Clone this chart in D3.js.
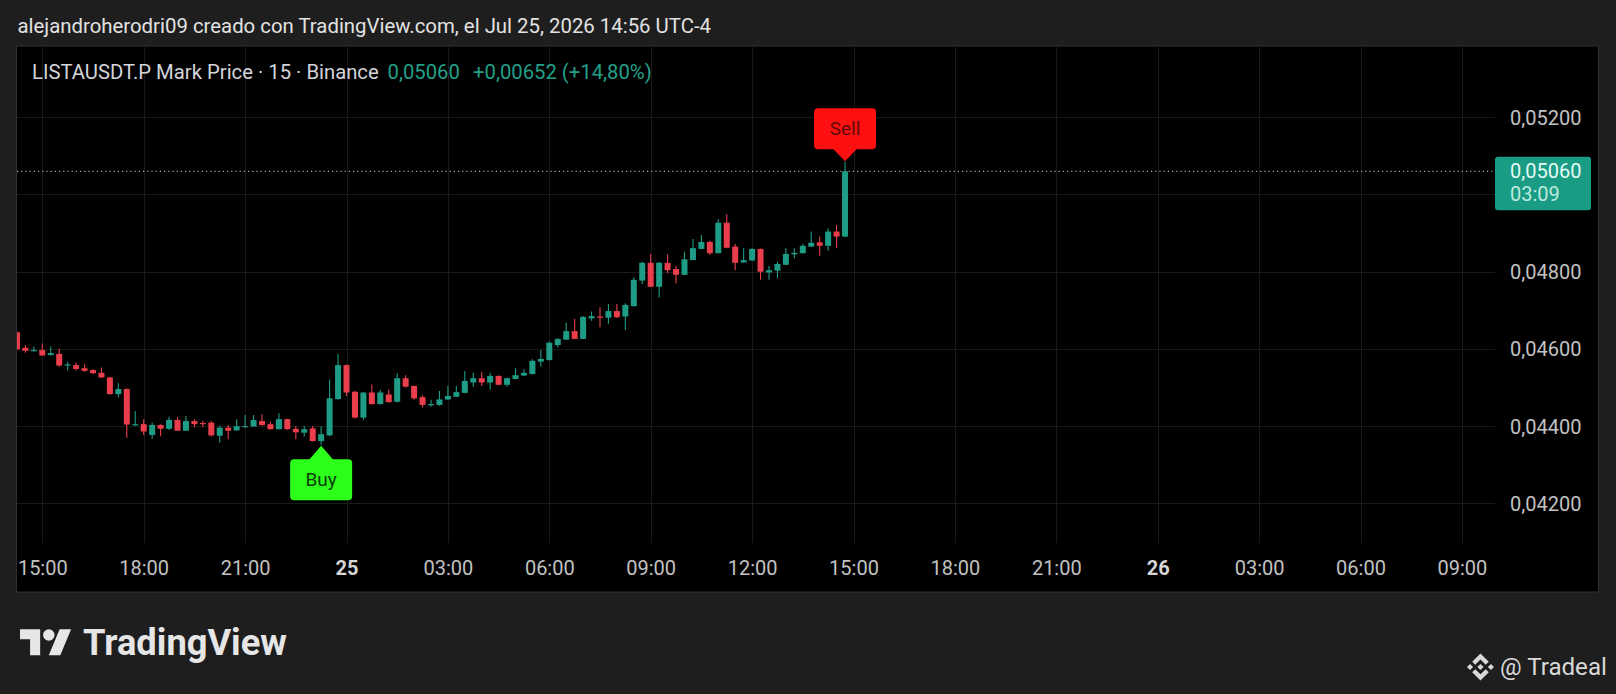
<!DOCTYPE html>
<html><head><meta charset="utf-8">
<script src="https://cdn.jsdelivr.net/npm/d3@7"></script>
<style>
html,body{margin:0;padding:0;background:#1e1e1e;overflow:hidden}
svg{display:block}
text{font-family:Roboto,"Noto Sans",sans-serif}
</style>
</head><body>
<svg id="chart" width="1616" height="694"></svg>
<script>
// ---------------- DATA ----------------
const startTime = "2026-07-24T14:15:00Z";
const intervalMinutes = 15;
const opens = [0.04643,0.04603,0.04595,0.04597,0.04584,0.04587,0.04557,0.04558,0.04550,0.04545,
0.04538,0.04526,0.04483,0.04496,0.04403,0.04405,0.04377,0.04403,0.04393,0.04416,
0.04388,0.04413,0.04408,0.04409,0.04375,0.04396,0.04389,0.04398,0.04399,0.04413,
0.04405,0.04392,0.04418,0.04393,0.04383,0.04394,0.04361,0.04376,0.04470,0.04558,
0.04489,0.04422,0.04487,0.04457,0.04482,0.04463,0.04524,0.04504,0.04475,0.04456,
0.04455,0.04469,0.04476,0.04486,0.04513,0.04524,0.04513,0.04530,0.04507,0.04522,
0.04531,0.04535,0.04567,0.04571,0.04610,0.04624,0.04646,0.04626,0.04679,0.04684,
0.04681,0.04698,0.04684,0.04711,0.04777,0.04823,0.04761,0.04823,0.04807,0.04792,
0.04830,0.04859,0.04877,0.04848,0.04927,0.04865,0.04824,0.04829,0.04859,0.04798,
0.04803,0.04818,0.04845,0.04848,0.04865,0.04876,0.04867,0.04904,0.04891];
const highs = [0.04645,0.04610,0.04606,0.04614,0.04606,0.04601,0.04567,0.04565,0.04560,0.04548,
0.04552,0.04528,0.04511,0.04498,0.04439,0.04418,0.04409,0.04405,0.04424,0.04423,
0.04426,0.04418,0.04414,0.04414,0.04401,0.04403,0.04418,0.04429,0.04429,0.04431,
0.04411,0.04433,0.04419,0.04400,0.04400,0.04400,0.04399,0.04521,0.04587,0.04560,
0.04491,0.04488,0.04508,0.04494,0.04495,0.04537,0.04532,0.04505,0.04480,0.04468,
0.04491,0.04504,0.04504,0.04543,0.04538,0.04540,0.04538,0.04531,0.04526,0.04550,
0.04547,0.04573,0.04597,0.04619,0.04627,0.04668,0.04678,0.04685,0.04697,0.04708,
0.04716,0.04716,0.04718,0.04785,0.04826,0.04846,0.04825,0.04845,0.04815,0.04852,
0.04885,0.04895,0.04880,0.04936,0.04949,0.04872,0.04861,0.04861,0.04860,0.04815,
0.04826,0.04861,0.04861,0.04872,0.04904,0.04891,0.04912,0.04921,0.05085];
const lows = [0.04597,0.04590,0.04593,0.04582,0.04583,0.04554,0.04544,0.04545,0.04541,0.04535,
0.04525,0.04481,0.04474,0.04370,0.04401,0.04377,0.04367,0.04374,0.04390,0.04388,
0.04387,0.04397,0.04397,0.04373,0.04357,0.04366,0.04387,0.04396,0.04398,0.04401,
0.04391,0.04391,0.04391,0.04366,0.04373,0.04361,0.04351,0.04374,0.04468,0.04478,
0.04420,0.04416,0.04456,0.04456,0.04461,0.04461,0.04500,0.04468,0.04448,0.04450,
0.04453,0.04468,0.04475,0.04485,0.04502,0.04504,0.04495,0.04506,0.04502,0.04521,
0.04530,0.04534,0.04554,0.04570,0.04604,0.04623,0.04625,0.04625,0.04673,0.04656,
0.04665,0.04680,0.04649,0.04709,0.04768,0.04760,0.04733,0.04796,0.04770,0.04791,
0.04830,0.04858,0.04843,0.04847,0.04861,0.04804,0.04823,0.04828,0.04779,0.04779,
0.04783,0.04817,0.04835,0.04847,0.04864,0.04841,0.04854,0.04862,0.04889];
const closes = [0.04599,0.04595,0.04597,0.04583,0.04589,0.04557,0.04560,0.04548,0.04543,0.04537,
0.04526,0.04483,0.04496,0.04404,0.04405,0.04386,0.04403,0.04393,0.04416,0.04388,
0.04413,0.04405,0.04405,0.04376,0.04396,0.04388,0.04400,0.04400,0.04416,0.04403,
0.04392,0.04418,0.04392,0.04384,0.04392,0.04361,0.04379,0.04472,0.04558,0.04487,
0.04422,0.04487,0.04457,0.04487,0.04462,0.04524,0.04502,0.04472,0.04455,0.04457,
0.04469,0.04478,0.04488,0.04517,0.04524,0.04513,0.04530,0.04507,0.04524,0.04532,
0.04538,0.04569,0.04574,0.04616,0.04626,0.04646,0.04626,0.04683,0.04685,0.04682,
0.04698,0.04682,0.04714,0.04779,0.04823,0.04761,0.04823,0.04804,0.04792,0.04832,
0.04861,0.04877,0.04848,0.04927,0.04862,0.04823,0.04830,0.04859,0.04800,0.04804,
0.04820,0.04846,0.04849,0.04867,0.04875,0.04867,0.04904,0.04891,0.05060];

const timeTicks = ["2026-07-24T15:00:00Z","2026-07-24T18:00:00Z","2026-07-24T21:00:00Z","2026-07-25T00:00:00Z",
"2026-07-25T03:00:00Z","2026-07-25T06:00:00Z","2026-07-25T09:00:00Z","2026-07-25T12:00:00Z",
"2026-07-25T15:00:00Z","2026-07-25T18:00:00Z","2026-07-25T21:00:00Z","2026-07-26T00:00:00Z",
"2026-07-26T03:00:00Z","2026-07-26T06:00:00Z","2026-07-26T09:00:00Z"];
const timeTickLabels = ["15:00","18:00","21:00","25","03:00","06:00","09:00","12:00","15:00","18:00","21:00","26","03:00","06:00","09:00"];
const boldTickLabels = ["25","26"];
const priceTicks = [0.042,0.044,0.046,0.048,0.050,0.052];
const signals = [{index:36,label:"Buy"},{index:98,label:"Sell"}];
const lastPrice = 0.05060;
const countdown = "03:09";
const headerText = "alejandroherodri09 creado con TradingView.com, el Jul 25, 2026 14:56 UTC-4";
const legendSymbol = "LISTAUSDT.P Mark Price · 15 · Binance";
const legendPrice = "0,05060";
const legendChange = "+0,00652 (+14,80%)";
const brandText = "TradingView";
const watermarkText = "@ Tradeal";

// ---------------- STYLE / LAYOUT ----------------
const W = 1616, H = 694;
const panel = {x0:17, y0:46.5, x1:1598, y1:591.5};
const plot = {x0:17, x1:1495, y0:46.5, y1:543};
const UP = "#1f9c86", DOWN = "#ea3e4d";
const GRID = "#191919";
const AXIS_TEXT = "#c2c2c2";

const svg = d3.select("#chart");
svg.append("rect").attr("width",W).attr("height",H).attr("fill","#1e1e1e");
svg.append("rect").attr("x",panel.x0-0.5).attr("y",panel.y0-0.5)
  .attr("width",panel.x1-panel.x0+1).attr("height",panel.y1-panel.y0+1)
  .attr("fill","#000").attr("stroke","#303030").attr("stroke-width",1);

const parse = d3.isoParse;
const t0 = parse(startTime).getTime();
const times = opens.map((_,i)=> new Date(t0 + i*intervalMinutes*60000));
const tickDates = timeTicks.map(parse);

const x = d3.scaleUtc().domain([tickDates[0], tickDates[tickDates.length-1]]).range([42.3, 1461.9]);
const y = d3.scaleLinear().domain([0.042, 0.052]).range([503.3, 117.3]);

const locale = d3.formatLocale({decimal:",", thousands:".", grouping:[3], currency:["",""]});
const fmtP = locale.format(".5f");

// grid
const grid = svg.append("g");
grid.selectAll("line.h").data(priceTicks).join("line")
  .attr("x1",plot.x0).attr("x2",plot.x1)
  .attr("y1",d=>Math.round(y(d))+0.5).attr("y2",d=>Math.round(y(d))+0.5)
  .attr("stroke",GRID).attr("stroke-width",1);
grid.selectAll("line.v").data(tickDates).join("line")
  .attr("x1",d=>Math.round(x(d))+0.5).attr("x2",d=>Math.round(x(d))+0.5)
  .attr("y1",plot.y0).attr("y2",plot.y1)
  .attr("stroke",GRID).attr("stroke-width",1);

// time axis
const xAxis = d3.axisBottom(x).tickValues(tickDates).tickSize(0)
  .tickFormat((d,i)=>timeTickLabels[i]);
const gx = svg.append("g").attr("transform",`translate(0,${plot.y1})`).call(xAxis);
gx.select(".domain").remove();
gx.selectAll("text").attr("font-size",20).attr("dy",null)
  .attr("y",32).attr("font-family","Roboto, sans-serif")
  .attr("font-weight",function(){return boldTickLabels.includes(this.textContent)?700:400;})
  .attr("fill",function(){return boldTickLabels.includes(this.textContent)?"#d6d6d6":AXIS_TEXT;});

// price axis (labels hidden where the last-price tag covers them, as TradingView does)
const tagTop = y(lastPrice) - 14.5, tagBottom = y(lastPrice) + 39;
const visiblePriceTicks = priceTicks.filter(p => {
  const py = y(p);
  return py + 11 < tagTop || py - 11 > tagBottom;
});
const yAxis = d3.axisRight(y).tickValues(visiblePriceTicks).tickSize(0).tickFormat(fmtP);
const gy = svg.append("g").attr("transform",`translate(1510,0)`).call(yAxis);
gy.select(".domain").remove();
gy.selectAll("text").attr("x",0).attr("fill",AXIS_TEXT).attr("font-size",20)
  .attr("font-family","Roboto, sans-serif").attr("text-anchor","start").attr("dy","0.35em");

// clip for candles
svg.append("clipPath").attr("id","plotclip").append("rect")
  .attr("x",plot.x0).attr("y",plot.y0).attr("width",plot.x1-plot.x0).attr("height",plot.y1-plot.y0);

// last price dotted line
svg.append("line").attr("x1",plot.x0).attr("x2",plot.x1)
  .attr("y1",y(lastPrice)).attr("y2",y(lastPrice))
  .attr("stroke","#9aa8a4").attr("stroke-width",1.2).attr("stroke-dasharray","1.2,3");

// candles
const candles = opens.map((o,i)=>({t:times[i],o,h:highs[i],l:lows[i],c:closes[i]}));
const cg = svg.append("g").attr("clip-path","url(#plotclip)");
const bodyW = 6;
const cand = cg.selectAll("g.c").data(candles).join("g");
cand.append("line")
  .attr("x1",d=>x(d.t)).attr("x2",d=>x(d.t))
  .attr("y1",d=>y(d.h)).attr("y2",d=>y(d.l))
  .attr("stroke",d=>d.c>=d.o?UP:DOWN).attr("stroke-width",1.1);
cand.append("rect")
  .attr("x",d=>x(d.t)-bodyW/2).attr("width",bodyW)
  .attr("y",d=>y(Math.max(d.o,d.c)))
  .attr("height",d=>Math.max(1.2, Math.abs(y(d.o)-y(d.c))))
  .attr("fill",d=>d.c>=d.o?UP:DOWN);

// signals
signals.forEach(s=>{
  const d = candles[s.index];
  const cx = x(d.t);
  const g = svg.append("g");
  const bw = 62, bh = 41, th = 12, tw = 12.5;
  if (s.label === "Sell") {
    const tip = y(d.h) - 0.5;
    const by1 = tip - th;
    g.append("rect").attr("x",cx-bw/2).attr("y",by1-bh).attr("width",bw).attr("height",bh)
      .attr("rx",4).attr("fill","#ff1010");
    g.append("path").attr("d",`M${cx-tw},${by1-1}L${cx+tw},${by1-1}L${cx},${tip}Z`).attr("fill","#ff1010");
    g.append("text").attr("x",cx).attr("y",by1-bh/2).attr("dy","0.35em").attr("text-anchor","middle")
      .attr("font-size",19).attr("fill","#5c0b0b").text(s.label);
  } else {
    const tip = y(d.l) + 0.7;
    const by0 = tip + th + 1.5;
    g.append("rect").attr("x",cx-bw/2).attr("y",by0).attr("width",bw).attr("height",bh)
      .attr("rx",4).attr("fill","#2cff1a");
    g.append("path").attr("d",`M${cx-tw},${by0+1}L${cx+tw},${by0+1}L${cx},${tip}Z`).attr("fill","#2cff1a");
    g.append("text").attr("x",cx).attr("y",by0+bh/2).attr("dy","0.35em").attr("text-anchor","middle")
      .attr("font-size",19).attr("fill","#0c3d0a").text(s.label);
  }
});

// last price label
const ly = y(lastPrice);
svg.append("rect").attr("x",1495).attr("y",ly-14.5).attr("width",96).attr("height",53.5)
  .attr("rx",3).attr("fill","#1a9c84");
svg.append("text").attr("x",1510).attr("y",ly).attr("dy","0.35em").attr("font-size",20)
  .attr("fill","#e4fbf5").text(fmtP(lastPrice));
svg.append("text").attr("x",1510).attr("y",ly+22.5).attr("dy","0.35em").attr("font-size",20)
  .attr("fill","#bdeadf").text(countdown);

// header & legend, fitted to measured widths
function fit(sel, target){
  const w = sel.node().getComputedTextLength();
  const fs = parseFloat(sel.attr("font-size"));
  sel.attr("font-size", fs*target/w);
}
const hdr = svg.append("text").attr("x",17.5).attr("y",26).attr("dy","0.35em")
  .attr("font-size",20).attr("fill","#e2e2e2").text(headerText);
fit(hdr, 694);
const lg1 = svg.append("text").attr("x",32).attr("y",72).attr("dy","0.35em")
  .attr("font-size",20).attr("fill","#d3d5da").text(legendSymbol);
fit(lg1, 347);
const lfs = lg1.attr("font-size");
svg.append("text").attr("x",387.5).attr("y",72).attr("dy","0.35em")
  .attr("font-size",lfs).attr("fill","#22a08a").text(legendPrice);
svg.append("text").attr("x",473).attr("y",72).attr("dy","0.35em")
  .attr("font-size",lfs).attr("fill","#22a08a").text(legendChange);

// TradingView brand
const logo = svg.append("g").attr("transform","translate(20,623.5) scale(1.44)").attr("fill","#e6e6e6");
logo.append("path").attr("d","M14 22H7V11H0V4h14v18z");
logo.append("path").attr("d","M28 22h-8l7.5-18h8L28 22z");
logo.append("circle").attr("cx",20).attr("cy",8).attr("r",4);
const brand = svg.append("text").attr("x",83).attr("y",655).attr("font-size",36.5)
  .attr("font-weight",700).attr("fill","#e6e6e6").text(brandText);
fit(brand, 204);

// Tradeal watermark with Binance mark
const bn = svg.append("g").attr("transform","translate(1467,653.5) scale(0.213)").attr("fill","#d9d9d9");
bn.append("path").attr("d","M38.73 53.2L63.3 28.62L87.89 53.21L102.19 38.91L63.3 0L24.42 38.9Z");
bn.append("path").attr("d","M0 63.31L14.3 49.01L28.6 63.31L14.3 77.61Z");
bn.append("path").attr("d","M38.73 73.41L63.3 97.99L87.89 73.4L102.19 87.69L63.3 126.61L24.42 87.72Z");
bn.append("path").attr("d","M98.01 63.31L112.31 49.01L126.61 63.31L112.31 77.61Z");
bn.append("path").attr("d","M77.83 63.3L63.3 48.76L48.78 63.28L63.3 77.8Z");
const wm = svg.append("text").attr("x",1500).attr("y",667).attr("dy","0.35em")
  .attr("font-size",23.5).attr("fill","#d9d9d9").text(watermarkText);
fit(wm, 107);
</script>
</body></html>
